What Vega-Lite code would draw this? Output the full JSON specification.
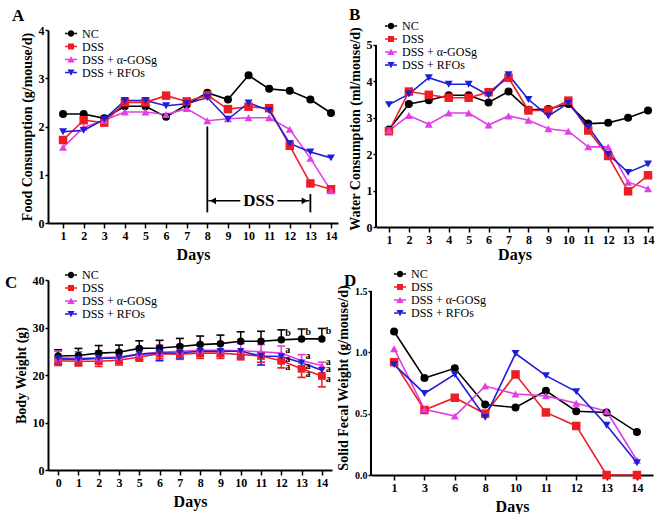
{
  "$schema": "https://vega.github.io/schema/vega-lite/v6.json",
  "background": "white",
  "padding": {"left": 5, "top": 6, "right": 0, "bottom": 0},
  "config": {
    "view": {"stroke": null},
    "axis": {"labelFont": "Liberation Serif", "labelFontSize": 12, "labelFontWeight": "bold", "labelColor": "#000", "titleFont": "Liberation Serif", "titleFontSize": 14, "titleFontWeight": "bold", "titleColor": "#000", "domainColor": "#000", "domainWidth": 2, "tickColor": "#000", "tickWidth": 1.5, "tickSize": 5, "grid": false, "labelPadding": 2, "labelOverlap": false},
    "axisX": {"titlePadding": 5, "titleFontSize": 16, "labelAngle": 0},
    "axisY": {"titlePadding": 4, "tickSize": 3, "labelPadding": 1},
    "title": {"font": "Liberation Serif", "fontSize": 17, "fontWeight": "bold", "color": "#000", "anchor": "start", "frame": "group"}
  },
  "datasets": {
    "food": [
      {"day":1,"group":"NC","value":2.26},{"day":2,"group":"NC","value":2.26},{"day":3,"group":"NC","value":2.17},{"day":4,"group":"NC","value":2.42},{"day":5,"group":"NC","value":2.42},{"day":6,"group":"NC","value":2.2},{"day":7,"group":"NC","value":2.45},{"day":8,"group":"NC","value":2.7},{"day":9,"group":"NC","value":2.56},{"day":10,"group":"NC","value":3.06},{"day":11,"group":"NC","value":2.78},{"day":12,"group":"NC","value":2.74},{"day":13,"group":"NC","value":2.56},{"day":14,"group":"NC","value":2.28},
      {"day":1,"group":"DSS","value":1.72},{"day":2,"group":"DSS","value":2.13},{"day":3,"group":"DSS","value":2.08},{"day":4,"group":"DSS","value":2.5},{"day":5,"group":"DSS","value":2.5},{"day":6,"group":"DSS","value":2.64},{"day":7,"group":"DSS","value":2.52},{"day":8,"group":"DSS","value":2.65},{"day":9,"group":"DSS","value":2.36},{"day":10,"group":"DSS","value":2.41},{"day":11,"group":"DSS","value":2.38},{"day":12,"group":"DSS","value":1.6},{"day":13,"group":"DSS","value":0.82},{"day":14,"group":"DSS","value":0.7},
      {"day":1,"group":"DSS + α-GOSg","value":1.57},{"day":2,"group":"DSS + α-GOSg","value":1.98},{"day":3,"group":"DSS + α-GOSg","value":2.13},{"day":4,"group":"DSS + α-GOSg","value":2.3},{"day":5,"group":"DSS + α-GOSg","value":2.3},{"day":6,"group":"DSS + α-GOSg","value":2.25},{"day":7,"group":"DSS + α-GOSg","value":2.37},{"day":8,"group":"DSS + α-GOSg","value":2.12},{"day":9,"group":"DSS + α-GOSg","value":2.16},{"day":10,"group":"DSS + α-GOSg","value":2.18},{"day":11,"group":"DSS + α-GOSg","value":2.18},{"day":12,"group":"DSS + α-GOSg","value":1.94},{"day":13,"group":"DSS + α-GOSg","value":1.34},{"day":14,"group":"DSS + α-GOSg","value":0.67},
      {"day":1,"group":"DSS + RFOs","value":1.89},{"day":2,"group":"DSS + RFOs","value":1.92},{"day":3,"group":"DSS + RFOs","value":2.15},{"day":4,"group":"DSS + RFOs","value":2.54},{"day":5,"group":"DSS + RFOs","value":2.54},{"day":6,"group":"DSS + RFOs","value":2.43},{"day":7,"group":"DSS + RFOs","value":2.47},{"day":8,"group":"DSS + RFOs","value":2.6},{"day":9,"group":"DSS + RFOs","value":2.15},{"day":10,"group":"DSS + RFOs","value":2.49},{"day":11,"group":"DSS + RFOs","value":2.33},{"day":12,"group":"DSS + RFOs","value":1.65},{"day":13,"group":"DSS + RFOs","value":1.47},{"day":14,"group":"DSS + RFOs","value":1.35}
    ],
    "water": [
      {"day":1,"group":"NC","value":2.68},{"day":2,"group":"NC","value":3.38},{"day":3,"group":"NC","value":3.48},{"day":4,"group":"NC","value":3.62},{"day":5,"group":"NC","value":3.62},{"day":6,"group":"NC","value":3.42},{"day":7,"group":"NC","value":3.72},{"day":8,"group":"NC","value":3.22},{"day":9,"group":"NC","value":3.24},{"day":10,"group":"NC","value":3.38},{"day":11,"group":"NC","value":2.84},{"day":12,"group":"NC","value":2.86},{"day":13,"group":"NC","value":3.0},{"day":14,"group":"NC","value":3.2},
      {"day":1,"group":"DSS","value":2.63},{"day":2,"group":"DSS","value":3.72},{"day":3,"group":"DSS","value":3.63},{"day":4,"group":"DSS","value":3.55},{"day":5,"group":"DSS","value":3.55},{"day":6,"group":"DSS","value":3.7},{"day":7,"group":"DSS","value":4.1},{"day":8,"group":"DSS","value":3.2},{"day":9,"group":"DSS","value":3.2},{"day":10,"group":"DSS","value":3.47},{"day":11,"group":"DSS","value":2.65},{"day":12,"group":"DSS","value":1.95},{"day":13,"group":"DSS","value":0.98},{"day":14,"group":"DSS","value":1.42},
      {"day":1,"group":"DSS + α-GOSg","value":2.65},{"day":2,"group":"DSS + α-GOSg","value":3.06},{"day":3,"group":"DSS + α-GOSg","value":2.82},{"day":4,"group":"DSS + α-GOSg","value":3.13},{"day":5,"group":"DSS + α-GOSg","value":3.13},{"day":6,"group":"DSS + α-GOSg","value":2.8},{"day":7,"group":"DSS + α-GOSg","value":3.05},{"day":8,"group":"DSS + α-GOSg","value":2.93},{"day":9,"group":"DSS + α-GOSg","value":2.7},{"day":10,"group":"DSS + α-GOSg","value":2.63},{"day":11,"group":"DSS + α-GOSg","value":2.2},{"day":12,"group":"DSS + α-GOSg","value":2.2},{"day":13,"group":"DSS + α-GOSg","value":1.23},{"day":14,"group":"DSS + α-GOSg","value":1.05},
      {"day":1,"group":"DSS + RFOs","value":3.36},{"day":2,"group":"DSS + RFOs","value":3.65},{"day":3,"group":"DSS + RFOs","value":4.1},{"day":4,"group":"DSS + RFOs","value":3.92},{"day":5,"group":"DSS + RFOs","value":3.92},{"day":6,"group":"DSS + RFOs","value":3.62},{"day":7,"group":"DSS + RFOs","value":4.18},{"day":8,"group":"DSS + RFOs","value":3.5},{"day":9,"group":"DSS + RFOs","value":3.05},{"day":10,"group":"DSS + RFOs","value":3.4},{"day":11,"group":"DSS + RFOs","value":2.75},{"day":12,"group":"DSS + RFOs","value":2.0},{"day":13,"group":"DSS + RFOs","value":1.5},{"day":14,"group":"DSS + RFOs","value":1.73}
    ],
    "weight": [
      {"day":0,"group":"NC","value":24.0,"end":25.3},{"day":1,"group":"NC","value":24.1,"end":25.6},{"day":2,"group":"NC","value":24.6,"end":26.2},{"day":3,"group":"NC","value":24.8,"end":26.3},{"day":5,"group":"NC","value":25.6,"end":27.2},{"day":6,"group":"NC","value":25.7,"end":27.3},{"day":7,"group":"NC","value":26.0,"end":27.7},{"day":8,"group":"NC","value":26.4,"end":28.2},{"day":9,"group":"NC","value":26.6,"end":28.4},{"day":10,"group":"NC","value":27.1,"end":29.1},{"day":11,"group":"NC","value":27.1,"end":29.2},{"day":12,"group":"NC","value":27.4,"end":29.5},{"day":13,"group":"NC","value":27.6,"end":29.7},{"day":14,"group":"NC","value":27.6,"end":29.8},
      {"day":0,"group":"DSS","value":23.0,"end":22.0},{"day":1,"group":"DSS","value":22.9,"end":21.9},{"day":2,"group":"DSS","value":22.9,"end":21.8},{"day":3,"group":"DSS","value":23.1,"end":22.1},{"day":5,"group":"DSS","value":23.8,"end":22.9},{"day":6,"group":"DSS","value":24.5,"end":23.4},{"day":7,"group":"DSS","value":24.4,"end":23.3},{"day":8,"group":"DSS","value":24.6,"end":23.5},{"day":9,"group":"DSS","value":24.6,"end":23.5},{"day":10,"group":"DSS","value":24.3,"end":23.2},{"day":11,"group":"DSS","value":24.0,"end":22.7},{"day":12,"group":"DSS","value":23.0,"end":21.5},{"day":13,"group":"DSS","value":21.3,"end":19.5},{"day":14,"group":"DSS","value":19.8,"end":17.5},
      {"day":0,"group":"DSS + α-GOSg","value":23.6,"end":25.0},{"day":1,"group":"DSS + α-GOSg","value":23.5,"end":24.9},{"day":2,"group":"DSS + α-GOSg","value":23.6,"end":25.1},{"day":3,"group":"DSS + α-GOSg","value":23.8,"end":25.2},{"day":5,"group":"DSS + α-GOSg","value":24.4,"end":25.8},{"day":6,"group":"DSS + α-GOSg","value":24.8,"end":26.3},{"day":7,"group":"DSS + α-GOSg","value":25.0,"end":26.4},{"day":8,"group":"DSS + α-GOSg","value":25.2,"end":26.6},{"day":9,"group":"DSS + α-GOSg","value":25.2,"end":26.6},{"day":10,"group":"DSS + α-GOSg","value":25.1,"end":26.6},{"day":11,"group":"DSS + α-GOSg","value":24.9,"end":26.4},{"day":12,"group":"DSS + α-GOSg","value":24.6,"end":26.1},{"day":13,"group":"DSS + α-GOSg","value":23.0,"end":24.3},{"day":14,"group":"DSS + α-GOSg","value":22.0,"end":22.7},
      {"day":0,"group":"DSS + RFOs","value":23.4,"end":22.3},{"day":1,"group":"DSS + RFOs","value":23.3,"end":22.2},{"day":2,"group":"DSS + RFOs","value":23.5,"end":22.4},{"day":3,"group":"DSS + RFOs","value":23.6,"end":22.5},{"day":5,"group":"DSS + RFOs","value":24.4,"end":23.3},{"day":6,"group":"DSS + RFOs","value":24.6,"end":23.0},{"day":7,"group":"DSS + RFOs","value":24.7,"end":23.6},{"day":8,"group":"DSS + RFOs","value":25.0,"end":23.9},{"day":9,"group":"DSS + RFOs","value":25.0,"end":23.9},{"day":10,"group":"DSS + RFOs","value":25.0,"end":23.6},{"day":11,"group":"DSS + RFOs","value":24.0,"end":22.1},{"day":12,"group":"DSS + RFOs","value":23.9,"end":22.7},{"day":13,"group":"DSS + RFOs","value":22.6,"end":21.4},{"day":14,"group":"DSS + RFOs","value":21.0,"end":19.8}
    ],
    "letters": [
      {"day":12,"label":"b","pos":28.9},{"day":13,"label":"b","pos":29.1},{"day":14,"label":"b","pos":29.2},
      {"day":12,"label":"a","pos":25.2},{"day":12,"label":"a","pos":23.3},{"day":12,"label":"a","pos":21.6},
      {"day":13,"label":"a","pos":24.0},{"day":13,"label":"a","pos":21.9},{"day":13,"label":"a","pos":20.2},
      {"day":14,"label":"a","pos":22.8},{"day":14,"label":"a","pos":21.2},{"day":14,"label":"a","pos":19.1}
    ],
    "fecal": [
      {"day":1,"group":"NC","value":1.17},{"day":3,"group":"NC","value":0.79},{"day":6,"group":"NC","value":0.87},{"day":8,"group":"NC","value":0.575},{"day":10,"group":"NC","value":0.55},{"day":11,"group":"NC","value":0.687},{"day":12,"group":"NC","value":0.52},{"day":13,"group":"NC","value":0.51},{"day":14,"group":"NC","value":0.35},
      {"day":1,"group":"DSS","value":0.92},{"day":3,"group":"DSS","value":0.53},{"day":6,"group":"DSS","value":0.63},{"day":8,"group":"DSS","value":0.5},{"day":10,"group":"DSS","value":0.82},{"day":11,"group":"DSS","value":0.51},{"day":12,"group":"DSS","value":0.4},{"day":13,"group":"DSS","value":0},{"day":14,"group":"DSS","value":0},
      {"day":1,"group":"DSS + α-GOSg","value":1.03},{"day":3,"group":"DSS + α-GOSg","value":0.535},{"day":6,"group":"DSS + α-GOSg","value":0.48},{"day":8,"group":"DSS + α-GOSg","value":0.725},{"day":10,"group":"DSS + α-GOSg","value":0.66},{"day":11,"group":"DSS + α-GOSg","value":0.645},{"day":12,"group":"DSS + α-GOSg","value":0.585},{"day":13,"group":"DSS + α-GOSg","value":0.52},{"day":14,"group":"DSS + α-GOSg","value":0.12},
      {"day":1,"group":"DSS + RFOs","value":0.9},{"day":3,"group":"DSS + RFOs","value":0.665},{"day":6,"group":"DSS + RFOs","value":0.82},{"day":8,"group":"DSS + RFOs","value":0.47},{"day":10,"group":"DSS + RFOs","value":0.99},{"day":11,"group":"DSS + RFOs","value":0.81},{"day":12,"group":"DSS + RFOs","value":0.68},{"day":13,"group":"DSS + RFOs","value":0.405},{"day":14,"group":"DSS + RFOs","value":0.1}
    ]
  },
  "resolve": {"scale": {"color": "independent"}, "legend": {"color": "independent"}},
  "spacing": 6,
  "vconcat": [
    {
      "spacing": 10,
      "resolve": {"scale": {"color": "independent"}, "legend": {"color": "independent"}},
      "hconcat": [
        {
          "width": 290, "height": 193,
          "title": {"text": "A", "dx": -36, "offset": -1},
          "encoding": {
            "color": {"field": "group", "type": "nominal", "scale": {"domain": ["NC","DSS","DSS + α-GOSg","DSS + RFOs"], "range": ["#000000","#ee1c24","#e23ee6","#1e1ed8"]},
              "legend": {"title": null, "orient": "none", "legendX": 17, "legendY": -2.5, "padding": 0, "rowPadding": 1, "symbolSize": 144, "labelOffset": 5, "labelFont": "Liberation Serif", "labelFontSize": 12, "labelColor": "#000", "symbolStrokeWidth": 0,
                "encode": {"symbols": {"update": {
                  "shape": {"signal": "datum.value==='NC'?'M-0.55,0A0.55,0.55,0,1,0,0.55,0A0.55,0.55,0,1,0,-0.55,0ZM-1,-0.12H-0.5V0.12H-1ZM0.5,-0.12H1V0.12H0.5Z':datum.value==='DSS'?'M-0.5,-0.5H0.5V0.5H-0.5ZM-1,-0.12H-0.5V0.12H-1ZM0.5,-0.12H1V0.12H0.5Z':datum.value==='DSS + α-GOSg'?'M0,-0.55L0.6,0.5H-0.6ZM-1,-0.12H-0.3V0.12H-1ZM0.3,-0.12H1V0.12H0.3Z':'M0,0.55L0.6,-0.5H-0.6ZM-1,-0.12H-0.3V0.12H-1ZM0.3,-0.12H1V0.12H0.3Z'"},
                  "opacity": {"value": 1}
                }}}}}
          },
          "layer": [
            {
              "data": {"name": "food"},
              "mark": {"type": "line", "strokeWidth": 1.6},
              "encoding": {
                "x": {"field": "day", "type": "quantitative", "scale": {"domain": [0.27, 14.34], "nice": false, "zero": false}, "axis": {"values": [1,2,3,4,5,6,7,8,9,10,11,12,13,14], "tickCount": 30, "format": "d", "title": "Days", "labelOverlap": false, "labelFlush": false}},
                "y": {"field": "value", "type": "quantitative", "scale": {"domain": [0, 4], "nice": false}, "axis": {"values": [0,1,2,3,4], "tickCount": 30, "format": "d", "title": "Food Consumption (g/mouse/d)", "labelOverlap": false, "labelFlush": false}}
              }
            },
            {
              "data": {"name": "food"},
              "transform": [{"filter": {"field": "group", "equal": "NC"}}],
              "mark": {"type": "point", "shape": "circle", "filled": true, "opacity": 1, "size": 64},
              "encoding": {
                "x": {"field": "day", "type": "quantitative", "scale": {"domain": [0.27, 14.34], "nice": false, "zero": false}},
                "y": {"field": "value", "type": "quantitative", "scale": {"domain": [0, 4], "nice": false}}
              }
            },
            {
              "data": {"name": "food"},
              "transform": [{"filter": {"field": "group", "equal": "DSS"}}],
              "mark": {"type": "point", "shape": "square", "filled": true, "opacity": 1, "size": 72},
              "encoding": {
                "x": {"field": "day", "type": "quantitative", "scale": {"domain": [0.27, 14.34], "nice": false, "zero": false}},
                "y": {"field": "value", "type": "quantitative", "scale": {"domain": [0, 4], "nice": false}}
              }
            },
            {
              "data": {"name": "food"},
              "transform": [{"filter": {"field": "group", "equal": "DSS + α-GOSg"}}],
              "mark": {"type": "point", "shape": "triangle-up", "filled": true, "opacity": 1, "size": 64},
              "encoding": {
                "x": {"field": "day", "type": "quantitative", "scale": {"domain": [0.27, 14.34], "nice": false, "zero": false}},
                "y": {"field": "value", "type": "quantitative", "scale": {"domain": [0, 4], "nice": false}}
              }
            },
            {
              "data": {"name": "food"},
              "transform": [{"filter": {"field": "group", "equal": "DSS + RFOs"}}],
              "mark": {"type": "point", "shape": "triangle-down", "filled": true, "opacity": 1, "size": 64},
              "encoding": {
                "x": {"field": "day", "type": "quantitative", "scale": {"domain": [0.27, 14.34], "nice": false, "zero": false}},
                "y": {"field": "value", "type": "quantitative", "scale": {"domain": [0, 4], "nice": false}}
              }
            },
            {
              "data": {"values": [{"day": 8, "lo": 0.22, "hi": 2.0}, {"day": 13, "lo": 0.22, "hi": 0.6}]},
              "mark": {"type": "rule", "strokeWidth": 1.8},
              "encoding": {
                "x": {"field": "day", "type": "quantitative", "scale": {"domain": [0.27, 14.34], "nice": false, "zero": false}},
                "y": {"field": "lo", "type": "quantitative", "scale": {"domain": [0, 4], "nice": false}},
                "y2": {"field": "hi"},
                "color": {"value": "#000"}
              }
            },
            {
              "data": {"values": [{"from": 8.05, "to": 9.6, "level": 0.46}, {"from": 11.4, "to": 12.95, "level": 0.46}]},
              "mark": {"type": "rule", "strokeWidth": 1.6},
              "encoding": {
                "x": {"field": "from", "type": "quantitative", "scale": {"domain": [0.27, 14.34], "nice": false, "zero": false}},
                "x2": {"field": "to"},
                "y": {"field": "level", "type": "quantitative", "scale": {"domain": [0, 4], "nice": false}},
                "color": {"value": "#000"}
              }
            },
            {
              "data": {"values": [{"day": 8.28, "level": 0.46}]},
              "mark": {"type": "point", "shape": "triangle-left", "filled": true, "opacity": 1, "size": 45},
              "encoding": {
                "x": {"field": "day", "type": "quantitative", "scale": {"domain": [0.27, 14.34], "nice": false, "zero": false}},
                "y": {"field": "level", "type": "quantitative", "scale": {"domain": [0, 4], "nice": false}},
                "color": {"value": "#000"}
              }
            },
            {
              "data": {"values": [{"day": 12.72, "level": 0.46}]},
              "mark": {"type": "point", "shape": "triangle-right", "filled": true, "opacity": 1, "size": 45},
              "encoding": {
                "x": {"field": "day", "type": "quantitative", "scale": {"domain": [0.27, 14.34], "nice": false, "zero": false}},
                "y": {"field": "level", "type": "quantitative", "scale": {"domain": [0, 4], "nice": false}},
                "color": {"value": "#000"}
              }
            },
            {
              "data": {"values": [{"day": 10.5, "level": 0.46, "label": "DSS"}]},
              "mark": {"type": "text", "font": "Liberation Serif", "fontSize": 17, "fontWeight": "bold", "baseline": "middle", "align": "center"},
              "encoding": {
                "x": {"field": "day", "type": "quantitative", "scale": {"domain": [0.27, 14.34], "nice": false, "zero": false}},
                "y": {"field": "level", "type": "quantitative", "scale": {"domain": [0, 4], "nice": false}},
                "text": {"field": "label"},
                "color": {"value": "#000"}
              }
            }
          ]
        },
        {
          "width": 277, "height": 197,
          "title": {"text": "B", "dx": -27, "offset": -4},
          "encoding": {
            "color": {"field": "group", "type": "nominal", "scale": {"domain": ["NC","DSS","DSS + α-GOSg","DSS + RFOs"], "range": ["#000000","#ee1c24","#e23ee6","#1e1ed8"]},
              "legend": {"title": null, "orient": "none", "legendX": 9, "legendY": -10, "padding": 0, "rowPadding": 1, "symbolSize": 144, "labelOffset": 5, "labelFont": "Liberation Serif", "labelFontSize": 12, "labelColor": "#000", "symbolStrokeWidth": 0,
                "encode": {"symbols": {"update": {
                  "shape": {"signal": "datum.value==='NC'?'M-0.55,0A0.55,0.55,0,1,0,0.55,0A0.55,0.55,0,1,0,-0.55,0ZM-1,-0.12H-0.5V0.12H-1ZM0.5,-0.12H1V0.12H0.5Z':datum.value==='DSS'?'M-0.5,-0.5H0.5V0.5H-0.5ZM-1,-0.12H-0.5V0.12H-1ZM0.5,-0.12H1V0.12H0.5Z':datum.value==='DSS + α-GOSg'?'M0,-0.55L0.6,0.5H-0.6ZM-1,-0.12H-0.3V0.12H-1ZM0.3,-0.12H1V0.12H0.3Z':'M0,0.55L0.6,-0.5H-0.6ZM-1,-0.12H-0.3V0.12H-1ZM0.3,-0.12H1V0.12H0.3Z'"},
                  "opacity": {"value": 1}
                }}}}}
          },
          "layer": [
            {
              "data": {"name": "water"},
              "mark": {"type": "line", "strokeWidth": 1.6},
              "encoding": {
                "x": {"field": "day", "type": "quantitative", "scale": {"domain": [0.35, 14.25], "nice": false, "zero": false}, "axis": {"values": [1,2,3,4,5,6,7,8,9,10,11,12,13,14], "tickCount": 30, "format": "d", "title": "Days", "titlePadding": 1, "labelOverlap": false, "labelFlush": false}},
                "y": {"field": "value", "type": "quantitative", "scale": {"domain": [0, 5.41], "nice": false}, "axis": {"values": [0,1,2,3,4,5], "tickCount": 30, "format": "d", "domain": false, "title": "Water Consumption (ml/mouse/d)", "labelOverlap": false, "labelFlush": false}}
              }
            },
            {
              "data": {"name": "water"},
              "transform": [{"filter": {"field": "group", "equal": "NC"}}],
              "mark": {"type": "point", "shape": "circle", "filled": true, "opacity": 1, "size": 64},
              "encoding": {
                "x": {"field": "day", "type": "quantitative", "scale": {"domain": [0.35, 14.25], "nice": false, "zero": false}},
                "y": {"field": "value", "type": "quantitative", "scale": {"domain": [0, 5.41], "nice": false}}
              }
            },
            {
              "data": {"name": "water"},
              "transform": [{"filter": {"field": "group", "equal": "DSS"}}],
              "mark": {"type": "point", "shape": "square", "filled": true, "opacity": 1, "size": 72},
              "encoding": {
                "x": {"field": "day", "type": "quantitative", "scale": {"domain": [0.35, 14.25], "nice": false, "zero": false}},
                "y": {"field": "value", "type": "quantitative", "scale": {"domain": [0, 5.41], "nice": false}}
              }
            },
            {
              "data": {"name": "water"},
              "transform": [{"filter": {"field": "group", "equal": "DSS + α-GOSg"}}],
              "mark": {"type": "point", "shape": "triangle-up", "filled": true, "opacity": 1, "size": 64},
              "encoding": {
                "x": {"field": "day", "type": "quantitative", "scale": {"domain": [0.35, 14.25], "nice": false, "zero": false}},
                "y": {"field": "value", "type": "quantitative", "scale": {"domain": [0, 5.41], "nice": false}}
              }
            },
            {
              "data": {"name": "water"},
              "transform": [{"filter": {"field": "group", "equal": "DSS + RFOs"}}],
              "mark": {"type": "point", "shape": "triangle-down", "filled": true, "opacity": 1, "size": 64},
              "encoding": {
                "x": {"field": "day", "type": "quantitative", "scale": {"domain": [0.35, 14.25], "nice": false, "zero": false}},
                "y": {"field": "value", "type": "quantitative", "scale": {"domain": [0, 5.41], "nice": false}}
              }
            },
            {
              "data": {"values": [{"edge": 0.35, "lo": 0, "hi": 5}]},
              "mark": {"type": "rule", "strokeWidth": 2},
              "encoding": {
                "x": {"field": "edge", "type": "quantitative", "scale": {"domain": [0.35, 14.25], "nice": false, "zero": false}},
                "y": {"field": "lo", "type": "quantitative", "scale": {"domain": [0, 5.41], "nice": false}},
                "y2": {"field": "hi"},
                "color": {"value": "#000"}
              }
            }
          ]
        }
      ]
    },
    {
      "spacing": 4,
      "resolve": {"scale": {"color": "independent"}, "legend": {"color": "independent"}},
      "hconcat": [
        {
          "width": 284, "height": 190,
          "title": {"text": "C", "dx": -43, "offset": -23},
          "encoding": {
            "color": {"field": "group", "type": "nominal", "scale": {"domain": ["NC","DSS","DSS + α-GOSg","DSS + RFOs"], "range": ["#000000","#ee1c24","#e23ee6","#1e1ed8"]},
              "legend": {"title": null, "orient": "none", "legendX": 17, "legendY": -11, "padding": 0, "rowPadding": 1, "symbolSize": 144, "labelOffset": 5, "labelFont": "Liberation Serif", "labelFontSize": 12, "labelColor": "#000", "symbolStrokeWidth": 0,
                "encode": {"symbols": {"update": {
                  "shape": {"signal": "datum.value==='NC'?'M-0.55,0A0.55,0.55,0,1,0,0.55,0A0.55,0.55,0,1,0,-0.55,0ZM-1,-0.12H-0.5V0.12H-1ZM0.5,-0.12H1V0.12H0.5Z':datum.value==='DSS'?'M-0.5,-0.5H0.5V0.5H-0.5ZM-1,-0.12H-0.5V0.12H-1ZM0.5,-0.12H1V0.12H0.5Z':datum.value==='DSS + α-GOSg'?'M0,-0.55L0.6,0.5H-0.6ZM-1,-0.12H-0.3V0.12H-1ZM0.3,-0.12H1V0.12H0.3Z':'M0,0.55L0.6,-0.5H-0.6ZM-1,-0.12H-0.3V0.12H-1ZM0.3,-0.12H1V0.12H0.3Z'"},
                  "opacity": {"value": 1}
                }}}}}
          },
          "layer": [
            {
              "data": {"name": "weight"},
              "mark": {"type": "rule", "strokeWidth": 1.5},
              "encoding": {
                "x": {"field": "day", "type": "ordinal", "scale": {"type": "point", "padding": 0.5}, "axis": {"title": "Days"}},
                "y": {"field": "value", "type": "quantitative", "scale": {"domain": [0, 40], "nice": false}, "axis": {"values": [0,10,20,30,40], "tickCount": 30, "format": "d", "title": "Body Weight (g)"}},
                "y2": {"field": "end"}
              }
            },
            {
              "data": {"name": "weight"},
              "mark": {"type": "tick", "size": 8, "thickness": 1.6, "opacity": 1},
              "encoding": {
                "x": {"field": "day", "type": "ordinal", "scale": {"type": "point", "padding": 0.5}},
                "y": {"field": "end", "type": "quantitative", "scale": {"domain": [0, 40], "nice": false}}
              }
            },
            {
              "data": {"name": "weight"},
              "mark": {"type": "line", "strokeWidth": 1.6},
              "encoding": {
                "x": {"field": "day", "type": "ordinal", "scale": {"type": "point", "padding": 0.5}},
                "y": {"field": "value", "type": "quantitative", "scale": {"domain": [0, 40], "nice": false}}
              }
            },
            {
              "data": {"name": "weight"},
              "transform": [{"filter": {"field": "group", "equal": "NC"}}],
              "mark": {"type": "point", "shape": "circle", "filled": true, "opacity": 1, "size": 56},
              "encoding": {
                "x": {"field": "day", "type": "ordinal", "scale": {"type": "point", "padding": 0.5}},
                "y": {"field": "value", "type": "quantitative", "scale": {"domain": [0, 40], "nice": false}}
              }
            },
            {
              "data": {"name": "weight"},
              "transform": [{"filter": {"field": "group", "equal": "DSS"}}],
              "mark": {"type": "point", "shape": "square", "filled": true, "opacity": 1, "size": 60},
              "encoding": {
                "x": {"field": "day", "type": "ordinal", "scale": {"type": "point", "padding": 0.5}},
                "y": {"field": "value", "type": "quantitative", "scale": {"domain": [0, 40], "nice": false}}
              }
            },
            {
              "data": {"name": "weight"},
              "transform": [{"filter": {"field": "group", "equal": "DSS + α-GOSg"}}],
              "mark": {"type": "point", "shape": "triangle-up", "filled": true, "opacity": 1, "size": 56},
              "encoding": {
                "x": {"field": "day", "type": "ordinal", "scale": {"type": "point", "padding": 0.5}},
                "y": {"field": "value", "type": "quantitative", "scale": {"domain": [0, 40], "nice": false}}
              }
            },
            {
              "data": {"name": "weight"},
              "transform": [{"filter": {"field": "group", "equal": "DSS + RFOs"}}],
              "mark": {"type": "point", "shape": "triangle-down", "filled": true, "opacity": 1, "size": 56},
              "encoding": {
                "x": {"field": "day", "type": "ordinal", "scale": {"type": "point", "padding": 0.5}},
                "y": {"field": "value", "type": "quantitative", "scale": {"domain": [0, 40], "nice": false}}
              }
            },
            {
              "data": {"name": "letters"},
              "mark": {"type": "text", "font": "Liberation Serif", "fontSize": 10, "fontWeight": "bold", "align": "left", "baseline": "middle", "dx": 4},
              "encoding": {
                "x": {"field": "day", "type": "ordinal", "scale": {"type": "point", "padding": 0.5}},
                "y": {"field": "pos", "type": "quantitative", "scale": {"domain": [0, 40], "nice": false}},
                "text": {"field": "label"},
                "color": {"value": "#000"}
              }
            }
          ]
        },
        {
          "width": 282, "height": 195,
          "title": {"text": "D", "dx": -27, "offset": -22},
          "resolve": {"scale": {"x": "independent"}},
          "encoding": {
            "color": {"field": "group", "type": "nominal", "scale": {"domain": ["NC","DSS","DSS + α-GOSg","DSS + RFOs"], "range": ["#000000","#ee1c24","#e23ee6","#1e1ed8"]},
              "legend": {"title": null, "orient": "none", "legendX": 23, "legendY": -12, "padding": 0, "rowPadding": 1, "symbolSize": 144, "labelOffset": 5, "labelFont": "Liberation Serif", "labelFontSize": 12, "labelColor": "#000", "symbolStrokeWidth": 0,
                "encode": {"symbols": {"update": {
                  "shape": {"signal": "datum.value==='NC'?'M-0.55,0A0.55,0.55,0,1,0,0.55,0A0.55,0.55,0,1,0,-0.55,0ZM-1,-0.12H-0.5V0.12H-1ZM0.5,-0.12H1V0.12H0.5Z':datum.value==='DSS'?'M-0.5,-0.5H0.5V0.5H-0.5ZM-1,-0.12H-0.5V0.12H-1ZM0.5,-0.12H1V0.12H0.5Z':datum.value==='DSS + α-GOSg'?'M0,-0.55L0.6,0.5H-0.6ZM-1,-0.12H-0.3V0.12H-1ZM0.3,-0.12H1V0.12H0.3Z':'M0,0.55L0.6,-0.5H-0.6ZM-1,-0.12H-0.3V0.12H-1ZM0.3,-0.12H1V0.12H0.3Z'"},
                  "opacity": {"value": 1}
                }}}}}
          },
          "layer": [
            {
              "data": {"name": "fecal"},
              "mark": {"type": "line", "strokeWidth": 1.6},
              "encoding": {
                "x": {"field": "day", "type": "ordinal", "scale": {"type": "point", "padding": 0.645, "align": 0.59}, "axis": {"title": "Days"}},
                "y": {"field": "value", "type": "quantitative", "scale": {"domain": [0, 1.59], "nice": false}, "axis": {"values": [0, 0.5, 1, 1.5], "tickCount": 30, "format": ".1f", "domain": false, "labelFontSize": 10, "title": "Solid Fecal Weight (g/mouse/d)", "labelOverlap": false, "labelFlush": false}}
              }
            },
            {
              "data": {"name": "fecal"},
              "transform": [{"filter": {"field": "group", "equal": "NC"}}],
              "mark": {"type": "point", "shape": "circle", "filled": true, "opacity": 1, "size": 64},
              "encoding": {
                "x": {"field": "day", "type": "ordinal", "scale": {"type": "point", "padding": 0.645, "align": 0.59}, "axis": null},
                "y": {"field": "value", "type": "quantitative", "scale": {"domain": [0, 1.59], "nice": false}}
              }
            },
            {
              "data": {"name": "fecal"},
              "transform": [{"filter": {"field": "group", "equal": "DSS"}}],
              "mark": {"type": "point", "shape": "square", "filled": true, "opacity": 1, "size": 72},
              "encoding": {
                "x": {"field": "day", "type": "ordinal", "scale": {"type": "point", "padding": 0.645, "align": 0.59}, "axis": null},
                "y": {"field": "value", "type": "quantitative", "scale": {"domain": [0, 1.59], "nice": false}}
              }
            },
            {
              "data": {"name": "fecal"},
              "transform": [{"filter": {"field": "group", "equal": "DSS + α-GOSg"}}],
              "mark": {"type": "point", "shape": "triangle-up", "filled": true, "opacity": 1, "size": 64},
              "encoding": {
                "x": {"field": "day", "type": "ordinal", "scale": {"type": "point", "padding": 0.645, "align": 0.59}, "axis": null},
                "y": {"field": "value", "type": "quantitative", "scale": {"domain": [0, 1.59], "nice": false}}
              }
            },
            {
              "data": {"name": "fecal"},
              "transform": [{"filter": {"field": "group", "equal": "DSS + RFOs"}}],
              "mark": {"type": "point", "shape": "triangle-down", "filled": true, "opacity": 1, "size": 64},
              "encoding": {
                "x": {"field": "day", "type": "ordinal", "scale": {"type": "point", "padding": 0.645, "align": 0.59}, "axis": null},
                "y": {"field": "value", "type": "quantitative", "scale": {"domain": [0, 1.59], "nice": false}}
              }
            },
            {
              "data": {"values": [{"edge": 0, "lo": 0, "hi": 1.5}]},
              "mark": {"type": "rule", "strokeWidth": 2},
              "encoding": {
                "x": {"field": "edge", "type": "quantitative", "scale": {"domain": [0, 1], "nice": false, "zero": false}, "axis": null},
                "y": {"field": "lo", "type": "quantitative", "scale": {"domain": [0, 1.59], "nice": false}},
                "y2": {"field": "hi"},
                "color": {"value": "#000"}
              }
            }
          ]
        }
      ]
    }
  ]
}
